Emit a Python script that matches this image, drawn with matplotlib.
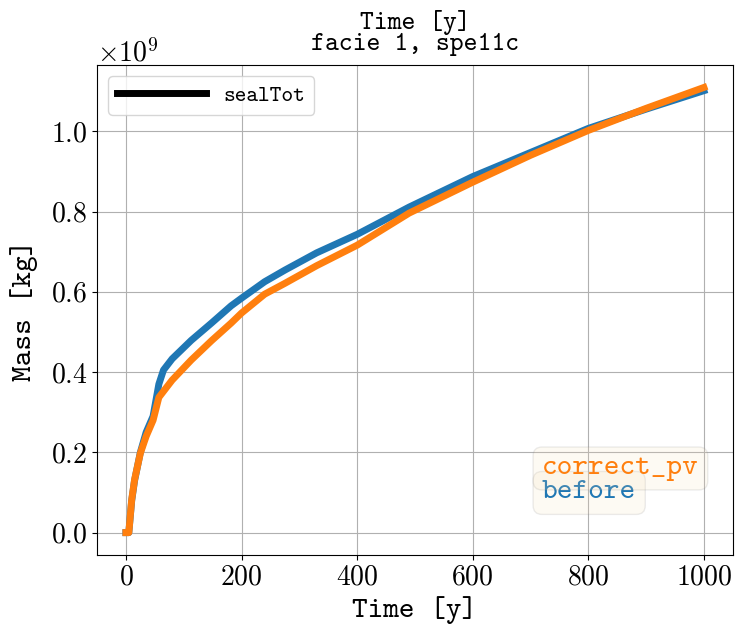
import numpy as np
import matplotlib.pyplot as plt
from matplotlib.lines import Line2D

plt.rcParams['font.family'] = 'cmr10'
plt.rcParams['mathtext.fontset'] = 'cm'
plt.rcParams['axes.formatter.use_mathtext'] = True
plt.rcParams['axes.unicode_minus'] = False

time = [0, 5, 10, 15, 25, 35, 47, 57, 65, 80, 113, 148, 182, 200, 240, 275,
        330, 400, 490, 600, 700, 800, 900, 1000]
before = [0, 0, 0.08, 0.13, 0.2, 0.25, 0.29, 0.37, 0.405, 0.433, 0.479,
          0.522, 0.565, 0.584, 0.625, 0.654, 0.697, 0.743, 0.811, 0.887,
          0.947, 1.007, 1.055, 1.101]
correct_pv = [0, 0, 0.082, 0.132, 0.198, 0.24, 0.28, 0.337, 0.352, 0.38,
              0.43, 0.478, 0.522, 0.547, 0.594, 0.621, 0.665, 0.716, 0.796,
              0.873, 0.94, 1.002, 1.057, 1.109]

before = np.array(before) * 1e9
correct_pv = np.array(correct_pv) * 1e9

mono = 'cmtt10'

fig = plt.figure(figsize=(7.35, 6.27), dpi=100)
ax = fig.add_axes([0.132, 0.115, 0.865, 0.781])

ax.plot(time, before, color='tab:blue', lw=5)
ax.plot(time, correct_pv, color='tab:orange', lw=5)

ax.set_title('Time [y]\nfacie 1, spe11c', fontsize=19, family=mono,
             linespacing=0.9, pad=11)
ax.set_xlabel('Time [y]', fontsize=21.5, family=mono)
ax.set_ylabel('Mass [kg]', fontsize=21.5, family=mono, labelpad=9)
ax.tick_params(labelsize=20)
ax.yaxis.get_offset_text().set_fontsize(20)
ax.grid(True)

handle = Line2D([], [], color='k', lw=5)
leg = ax.legend([handle], ['sealTot'], loc='upper left', handlelength=4,
                prop={'family': mono, 'size': 16})

box = dict(boxstyle='round', facecolor='wheat', alpha=0.15, edgecolor='gray')
ax.text(0.70, 0.152, 'before', transform=ax.transAxes, color='tab:blue',
        fontsize=21.5, family=mono, va='top', bbox=box)
ax.text(0.70, 0.202, 'correct_pv', transform=ax.transAxes, color='tab:orange',
        fontsize=21.5, family=mono, va='top', bbox=box)

plt.savefig('out.png', dpi=100)
